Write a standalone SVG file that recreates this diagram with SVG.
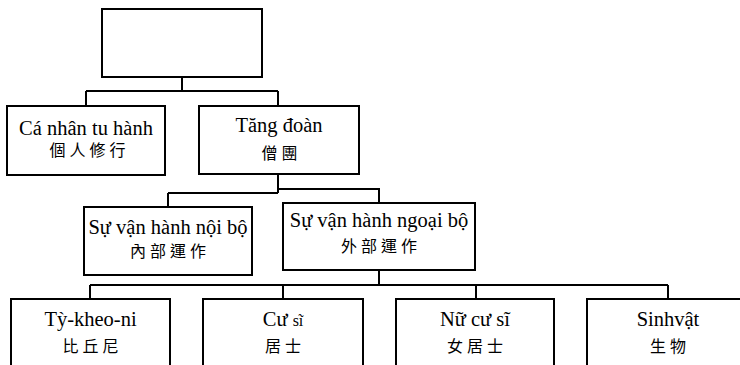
<svg xmlns="http://www.w3.org/2000/svg" width="740" height="365" viewBox="0 0 740 365">
<style>
.box{fill:#fff;stroke:#000;stroke-width:2}
.conn{fill:none;stroke:#000;stroke-width:2}
.vi{font-family:"Liberation Serif","Times New Roman",serif;font-size:20.5px;fill:#000;text-anchor:middle}
.zh{font-family:"Noto Sans CJK TC","Noto Sans CJK SC",sans-serif;font-size:16px;fill:#000;text-anchor:middle;letter-spacing:4px}
</style>
<rect width="740" height="365" fill="#fff"/>
<g id="connectors">
<path class="conn" d="M182 78V91M86 91H278M86 91V106M278 91V106"/>
<path class="conn" d="M278 174V193M168 193H278M168 193V207M278 189H379V203"/>
<path class="conn" d="M379 270V285M90 285H668M90 285V299M283 285V299M476 285V299M668 285V299"/>
</g>
<g id="root"><rect class="box" x="102" y="9" width="160" height="68"/></g>
<g id="ca-nhan"><rect class="box" x="7" y="106" width="158" height="69"/>
<text class="vi" x="86" y="135">Cá nhân tu hành</text>
<text class="zh" x="89.5" y="156">個人修行</text></g>
<g id="tang-doan"><rect class="box" x="199" y="106" width="160" height="68"/>
<text class="vi" x="279" y="132">Tăng đoàn</text>
<text class="zh" x="281.5" y="159">僧團</text></g>
<g id="noi-bo"><rect class="box" x="84" y="207" width="168" height="68"/>
<text class="vi" x="168" y="234">Sự vận hành nội bộ</text>
<text class="zh" x="170" y="257">內部運作</text></g>
<g id="ngoai-bo"><rect class="box" x="283" y="203" width="192" height="67"/>
<text class="vi" x="379" y="227">Sự vận hành ngoại bộ</text>
<text class="zh" x="381" y="252">外部運作</text></g>
<g id="ty-kheo-ni"><rect class="box" x="11" y="299" width="159" height="80"/>
<text class="vi" x="90.5" y="326">Tỳ-kheo-ni</text>
<text class="zh" x="92.5" y="352">比丘尼</text></g>
<g id="cu-si"><rect class="box" x="203" y="299" width="160" height="80"/>
<text class="vi" x="283" y="326">Cư <tspan font-size="16px">sĩ</tspan></text>
<text class="zh" x="285" y="352">居士</text></g>
<g id="nu-cu-si"><rect class="box" x="396" y="299" width="158" height="80"/>
<text class="vi" x="475" y="326">Nữ cư sĩ</text>
<text class="zh" x="477" y="352">女居士</text></g>
<g id="sinh-vat"><rect class="box" x="587" y="299" width="162" height="80"/>
<text class="vi" x="668" y="326">Sinhvật</text>
<text class="zh" x="670" y="352">生物</text></g>
</svg>
